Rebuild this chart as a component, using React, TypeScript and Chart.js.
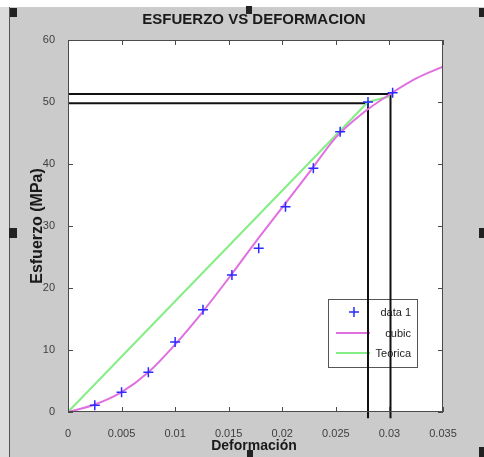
import React, { useEffect, useRef } from 'react';
import { Chart, registerables } from 'chart.js';
Chart.register(...registerables);

// ---- data ----
const markerX = [0, 0.0025, 0.005, 0.0075, 0.01, 0.0126, 0.0153, 0.0178, 0.0203, 0.0229, 0.0254, 0.028, 0.0303];
const markerY = [0, 1.1, 3.2, 6.4, 11.3, 16.5, 22.1, 26.4, 33.1, 39.3, 45.2, 50.0, 51.5];

const cubicX = [0, 0.0025, 0.005, 0.0075, 0.01, 0.0125, 0.015, 0.0175, 0.02, 0.0225, 0.025, 0.0275, 0.03, 0.0325, 0.035];
const cubicY = [0, 1.2, 3.2, 6.4, 10.9, 16.0, 21.6, 27.4, 33.0, 38.6, 44.3, 48.2, 51.2, 53.8, 55.7];

const teoX = [0, 0.028, 0.03];
const teoY = [0, 50.0, 50.9];

const refUpperX = [0, 0.0301, 0.0301];
const refUpperY = [51.3, 51.3, -1];
const refLowerX = [0, 0.028, 0.028];
const refLowerY = [49.8, 49.8, -1];

const xTickLabels = ['0', '0.005', '0.01', '0.015', '0.02', '0.025', '0.03', '0.035'];
const yTickLabels = ['0', '10', '20', '30', '40', '50', '60'];
const legendLabels = ['data 1', 'cubic', 'Teorica'];

const titleText = 'ESFUERZO VS DEFORMACION';
const xTitle = 'Deformación';
const yTitle = 'Esfuerzo (MPa)';

const BLUE = '#2b2bff';
const MAGENTA = '#e070e0';
const GREEN = '#84ee84';
const FONT = '"Liberation Sans", Arial, sans-serif';

const pts = (xs: number[], ys: number[]) => xs.map((x, i) => ({ x, y: ys[i] }));

const deco = {
  id: 'deco',
  beforeDraw(chart: any) {
    const { ctx, chartArea: a, width, height } = chart;
    ctx.save();
    ctx.fillStyle = '#cbcbcb';
    ctx.fillRect(0, 0, width, height);
    ctx.fillStyle = '#ffffff';
    ctx.fillRect(0, 0, width, 7);
    ctx.fillStyle = '#dcdcdc';
    ctx.fillRect(0, 7, 9, height - 7);
    ctx.fillStyle = '#555555';
    ctx.fillRect(9, 7, 1, height - 7);
    ctx.fillStyle = '#ffffff';
    ctx.fillRect(a.left, a.top, a.right - a.left, a.bottom - a.top);
    ctx.restore();
  },
  beforeDatasetsDraw(chart: any) {
    // legend box (under the datasets, the black guide lines cross it)
    const { ctx } = chart;
    const bx = 328, by = 299, bw = 89, bh = 68;
    ctx.save();
    ctx.fillStyle = '#ffffff';
    ctx.fillRect(bx, by, bw, bh);
    ctx.strokeStyle = '#555555';
    ctx.lineWidth = 1;
    ctx.strokeRect(bx + 0.5, by + 0.5, bw, bh);
    const rows = [312, 333, 353];
    ctx.font = `11px ${FONT}`;
    ctx.fillStyle = '#222222';
    ctx.textAlign = 'right';
    ctx.textBaseline = 'middle';
    legendLabels.forEach((l, i) => ctx.fillText(l, 411, rows[i] + 1));
    // marker
    ctx.strokeStyle = BLUE;
    ctx.lineWidth = 1.5;
    ctx.beginPath();
    ctx.moveTo(349, rows[0]); ctx.lineTo(359, rows[0]);
    ctx.moveTo(354, rows[0] - 5); ctx.lineTo(354, rows[0] + 5);
    ctx.stroke();
    ctx.lineWidth = 2;
    ctx.strokeStyle = MAGENTA;
    ctx.beginPath(); ctx.moveTo(336, rows[1]); ctx.lineTo(370, rows[1]); ctx.stroke();
    ctx.strokeStyle = GREEN;
    ctx.beginPath(); ctx.moveTo(336, rows[2]); ctx.lineTo(370, rows[2]); ctx.stroke();
    ctx.restore();
  },
  afterDraw(chart: any) {
    const { ctx, chartArea: a, scales } = chart;
    ctx.save();
    // frame
    ctx.strokeStyle = '#4a4a4a';
    ctx.lineWidth = 1;
    ctx.strokeRect(Math.round(a.left) + 0.5, Math.round(a.top) + 0.5, Math.round(a.right - a.left) - 1, Math.round(a.bottom - a.top) - 1);
    // inward ticks
    ctx.beginPath();
    scales.x.ticks.forEach((t: any) => {
      const px = Math.round(scales.x.getPixelForValue(t.value)) + 0.5;
      ctx.moveTo(px, a.bottom); ctx.lineTo(px, a.bottom - 5);
      ctx.moveTo(px, a.top); ctx.lineTo(px, a.top + 5);
    });
    scales.y.ticks.forEach((t: any) => {
      const py = Math.round(scales.y.getPixelForValue(t.value)) + 0.5;
      ctx.moveTo(a.left, py); ctx.lineTo(a.left + 5, py);
      ctx.moveTo(a.right, py); ctx.lineTo(a.right - 5, py);
    });
    ctx.stroke();
    // titles
    ctx.fillStyle = '#1a1a1a';
    ctx.textAlign = 'center';
    ctx.textBaseline = 'middle';
    ctx.font = `bold 15px ${FONT}`;
    ctx.fillText(titleText, 254, 20);
    ctx.font = `bold 14px ${FONT}`;
    ctx.fillText(xTitle, 254, 446);
    ctx.save();
    ctx.translate(38, 226);
    ctx.rotate(-Math.PI / 2);
    ctx.font = `bold 16px ${FONT}`;
    ctx.fillText(yTitle, 0, 0);
    ctx.restore();
    // selection handles
    ctx.fillStyle = '#222222';
    ctx.fillRect(10, 8, 7, 9);
    ctx.fillRect(246, 6, 6, 8);
    ctx.fillRect(479, 8, 5, 9);
    ctx.fillRect(9, 228, 8, 10);
    ctx.fillRect(479, 228, 5, 10);
    ctx.fillRect(247, 450, 6, 7);
    ctx.fillRect(479, 447, 5, 10);
    ctx.restore();
  },
};

export default function App() {
  const ref = useRef<HTMLCanvasElement>(null);
  useEffect(() => {
    if (!ref.current) return;
    const chart = new Chart(ref.current, {
      type: 'scatter',
      data: {
        datasets: [
          {
            label: legendLabels[0],
            data: pts(markerX, markerY),
            showLine: false,
            pointStyle: 'cross',
            pointRadius: 5,
            borderColor: BLUE,
            backgroundColor: BLUE,
            pointBorderWidth: 1.5,
          },
          {
            label: legendLabels[1],
            data: pts(cubicX, cubicY),
            showLine: true,
            pointRadius: 0,
            borderColor: MAGENTA,
            borderWidth: 2,
            cubicInterpolationMode: 'monotone',
          },
          {
            label: legendLabels[2],
            data: pts(teoX, teoY),
            showLine: true,
            pointRadius: 0,
            borderColor: GREEN,
            borderWidth: 2,
          },
          {
            label: 'ref1',
            data: pts(refUpperX, refUpperY),
            showLine: true,
            pointRadius: 0,
            borderColor: '#111111',
            borderWidth: 2,
            clip: false,
          },
          {
            label: 'ref2',
            data: pts(refLowerX, refLowerY),
            showLine: true,
            pointRadius: 0,
            borderColor: '#111111',
            borderWidth: 2,
            clip: false,
          },
        ],
      } as any,
      options: {
        animation: false,
        responsive: false,
        layout: { padding: { top: 40, right: 41, left: 0, bottom: 0 } },
        plugins: { legend: { display: false }, tooltip: { enabled: false }, title: { display: false } },
        scales: {
          x: {
            type: 'linear',
            min: 0,
            max: 0.035,
            grid: { display: false },
            border: { display: false },
            ticks: {
              stepSize: 0.005,
              padding: 7,
              color: '#404040',
              font: { family: FONT, size: 11 },
              maxRotation: 0,
              autoSkip: false,
              callback: (_v: any, i: number) => xTickLabels[i],
            },
            afterFit: (s: any) => { s.height = 45; },
          },
          y: {
            type: 'linear',
            min: 0,
            max: 60,
            grid: { display: false },
            border: { display: false },
            ticks: {
              stepSize: 10,
              padding: 5,
              color: '#404040',
              font: { family: FONT, size: 11 },
              callback: (_v: any, i: number) => yTickLabels[i],
            },
            afterFit: (s: any) => { s.width = 68; },
          },
        },
      },
      plugins: [deco],
    });
    return () => chart.destroy();
  }, []);
  return (
    <div style={{ position: 'fixed', left: 0, top: 0, width: 484, height: 457 }}>
      <canvas ref={ref} width={484} height={457} style={{ display: 'block' }} />
    </div>
  );
}
